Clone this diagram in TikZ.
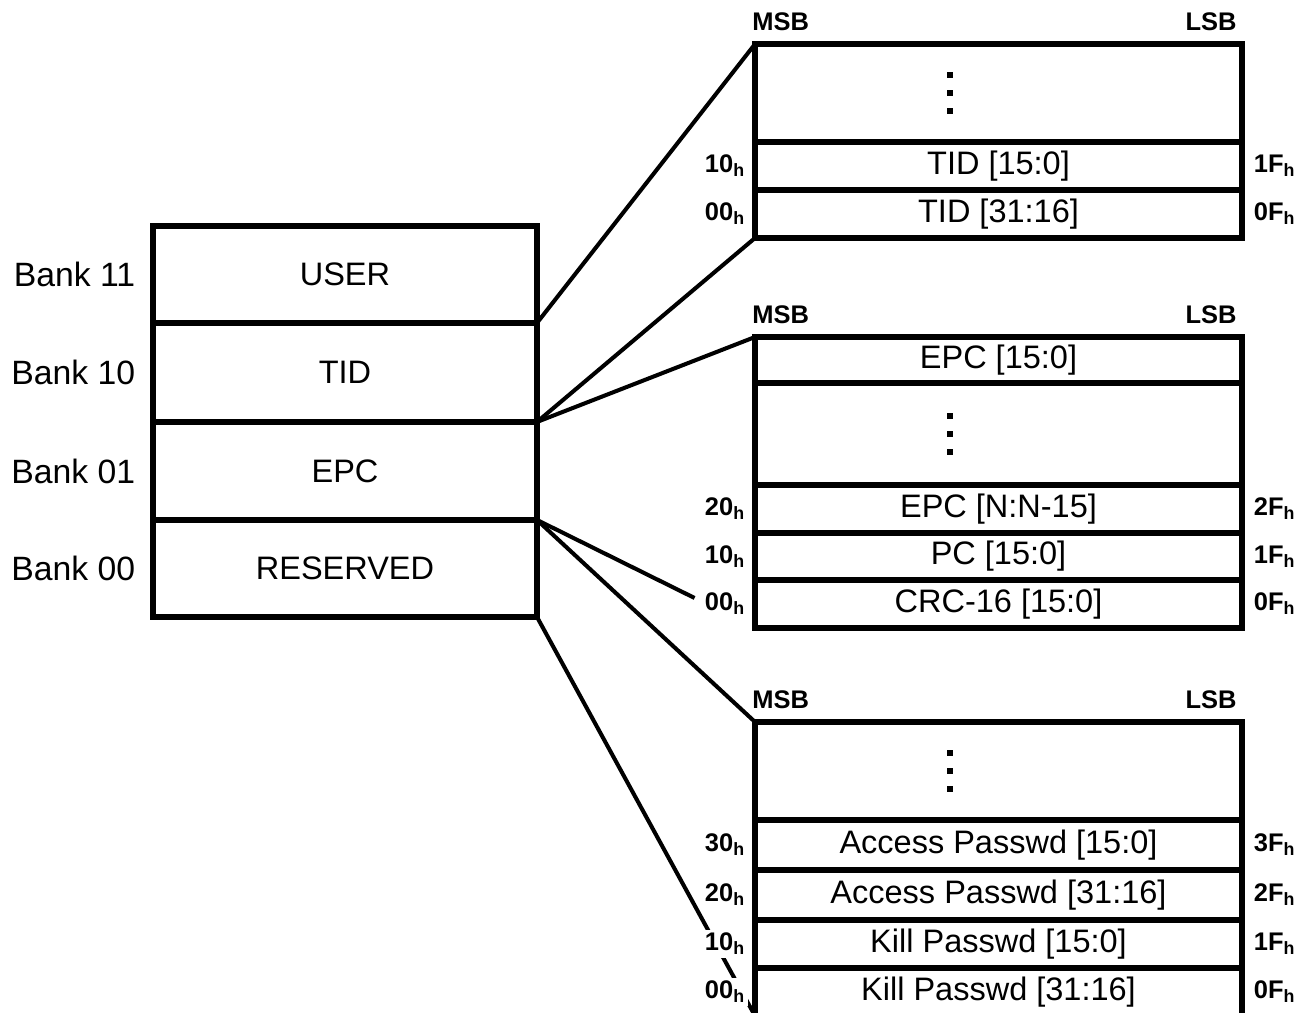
\documentclass[tikz,border=0pt]{standalone}
\usepackage{fontspec}
\setmainfont{Liberation Sans}
\usepackage{tikz}
\usetikzlibrary{positioning,calc}

\begin{document}
\begin{tikzpicture}[
    x=0.02cm, y=-0.02cm,
    node distance=0pt,
    row/.style={draw, line width=3.4pt, outer sep=0pt, inner sep=0pt,
                font=\fontsize{18.5}{21}\selectfont, align=center},
    bank/.style={row, minimum width=7.68cm},
    word/.style={row, minimum width=9.74cm},
    side/.style={font=\fontsize{19.2}{22}\selectfont, inner sep=2pt},
    addr/.style={font=\bfseries\fontsize{14.5}{17}\selectfont, fill=white, inner sep=1.5pt},
    bit/.style ={font=\bfseries\fontsize{14.5}{16}\selectfont, inner sep=0pt},
    link/.style={line width=2.3pt}
  ]
    \useasboundingbox (0,0) rectangle (1309,1013);

    % memory banks
    \node[bank, minimum height=1.94cm, anchor=north] (user) at (345,226) {USER};
    \node[bank, minimum height=1.98cm, below=of user] (tid) {TID};
    \node[bank, minimum height=1.96cm, below=of tid] (epc) {EPC};
    \node[bank, minimum height=1.94cm, below=of epc] (rsvd) {RESERVED};

    \node[side, left=0.28cm of user] (b11) {Bank 11};
    \node[side, left=0.28cm of tid] (b10) {Bank 10};
    \node[side, left=0.28cm of epc] (b01) {Bank 01};
    \node[side, left=0.28cm of rsvd] (b00) {Bank 00};

    % TID words
    \node[word, minimum height=1.96cm, anchor=north] (tidDots) at (998.5,44) {};
    \node[word, minimum height=0.96cm, below=of tidDots] (tidLo) {TID [15:0]};
    \node[word, minimum height=0.96cm, below=of tidLo] (tidHi) {TID [31:16]};

    % EPC words
    \node[word, minimum height=0.92cm, anchor=north] (epcLo) at (998.5,337) {EPC [15:0]};
    \node[word, minimum height=2.04cm, below=of epcLo] (epcDots) {};
    \node[word, minimum height=0.96cm, below=of epcDots] (epcN) {EPC [N:N-15]};
    \node[word, minimum height=0.94cm, below=of epcN] (pc) {PC [15:0]};
    \node[word, minimum height=0.96cm, below=of pc] (crc) {CRC-16 [15:0]};

    % reserved words
    \node[word, minimum height=1.96cm, anchor=north] (rsvDots) at (998.5,722) {};
    \node[word, minimum height=1.00cm, below=of rsvDots] (accLo) {Access Passwd [15:0]};
    \node[word, minimum height=1.00cm, below=of accLo] (accHi) {Access Passwd [31:16]};
    \node[word, minimum height=0.96cm, below=of accHi] (killLo) {Kill Passwd [15:0]};
    \node[word, minimum height=0.96cm, below=of killLo] (killHi) {Kill Passwd [31:16]};

    \foreach \w in {tidDots, epcDots, rsvDots}
      \foreach \d in {-18,0,18}
        \fill ($(\w.center)+(-51.5,\d-3)$) rectangle ++(6,6);

    % bank -> word map lines
    \foreach \a/\b in {user.south east/tidDots.north west, tid.south east/tidHi.south west,
                       tid.south east/epcLo.north west,
                       epc.south east/rsvDots.north west, rsvd.south east/killHi.south west}
      \draw[link] (\a) -- (\b);
    \draw[link, shorten >=1.35cm] (epc.south east) -- (crc.south west);

    % MSB / LSB
    \foreach \w/\n in {tidDots/t, epcLo/e, rsvDots/r} {
      \node[bit, above right=0.26cm and -0.06cm of \w.north west] (msb\n) {MSB};
      \node[bit, above left=0.26cm and 0.1cm of \w.north east] (lsb\n) {LSB};
    }

    % word addresses
    \foreach \w/\l/\r in {tidLo/10/1F, tidHi/00/0F, epcN/20/2F, pc/10/1F, crc/00/0F,
                          accLo/30/3F, accHi/20/2F, killLo/10/1F, killHi/00/0F} {
      \node[addr, left=0.14cm of \w] (\w L) {\l\textsubscript{h}};
      \node[addr, right=0.18cm of \w] (\w R) {\r\textsubscript{h}};
    }
  \end{tikzpicture}
\end{document}
